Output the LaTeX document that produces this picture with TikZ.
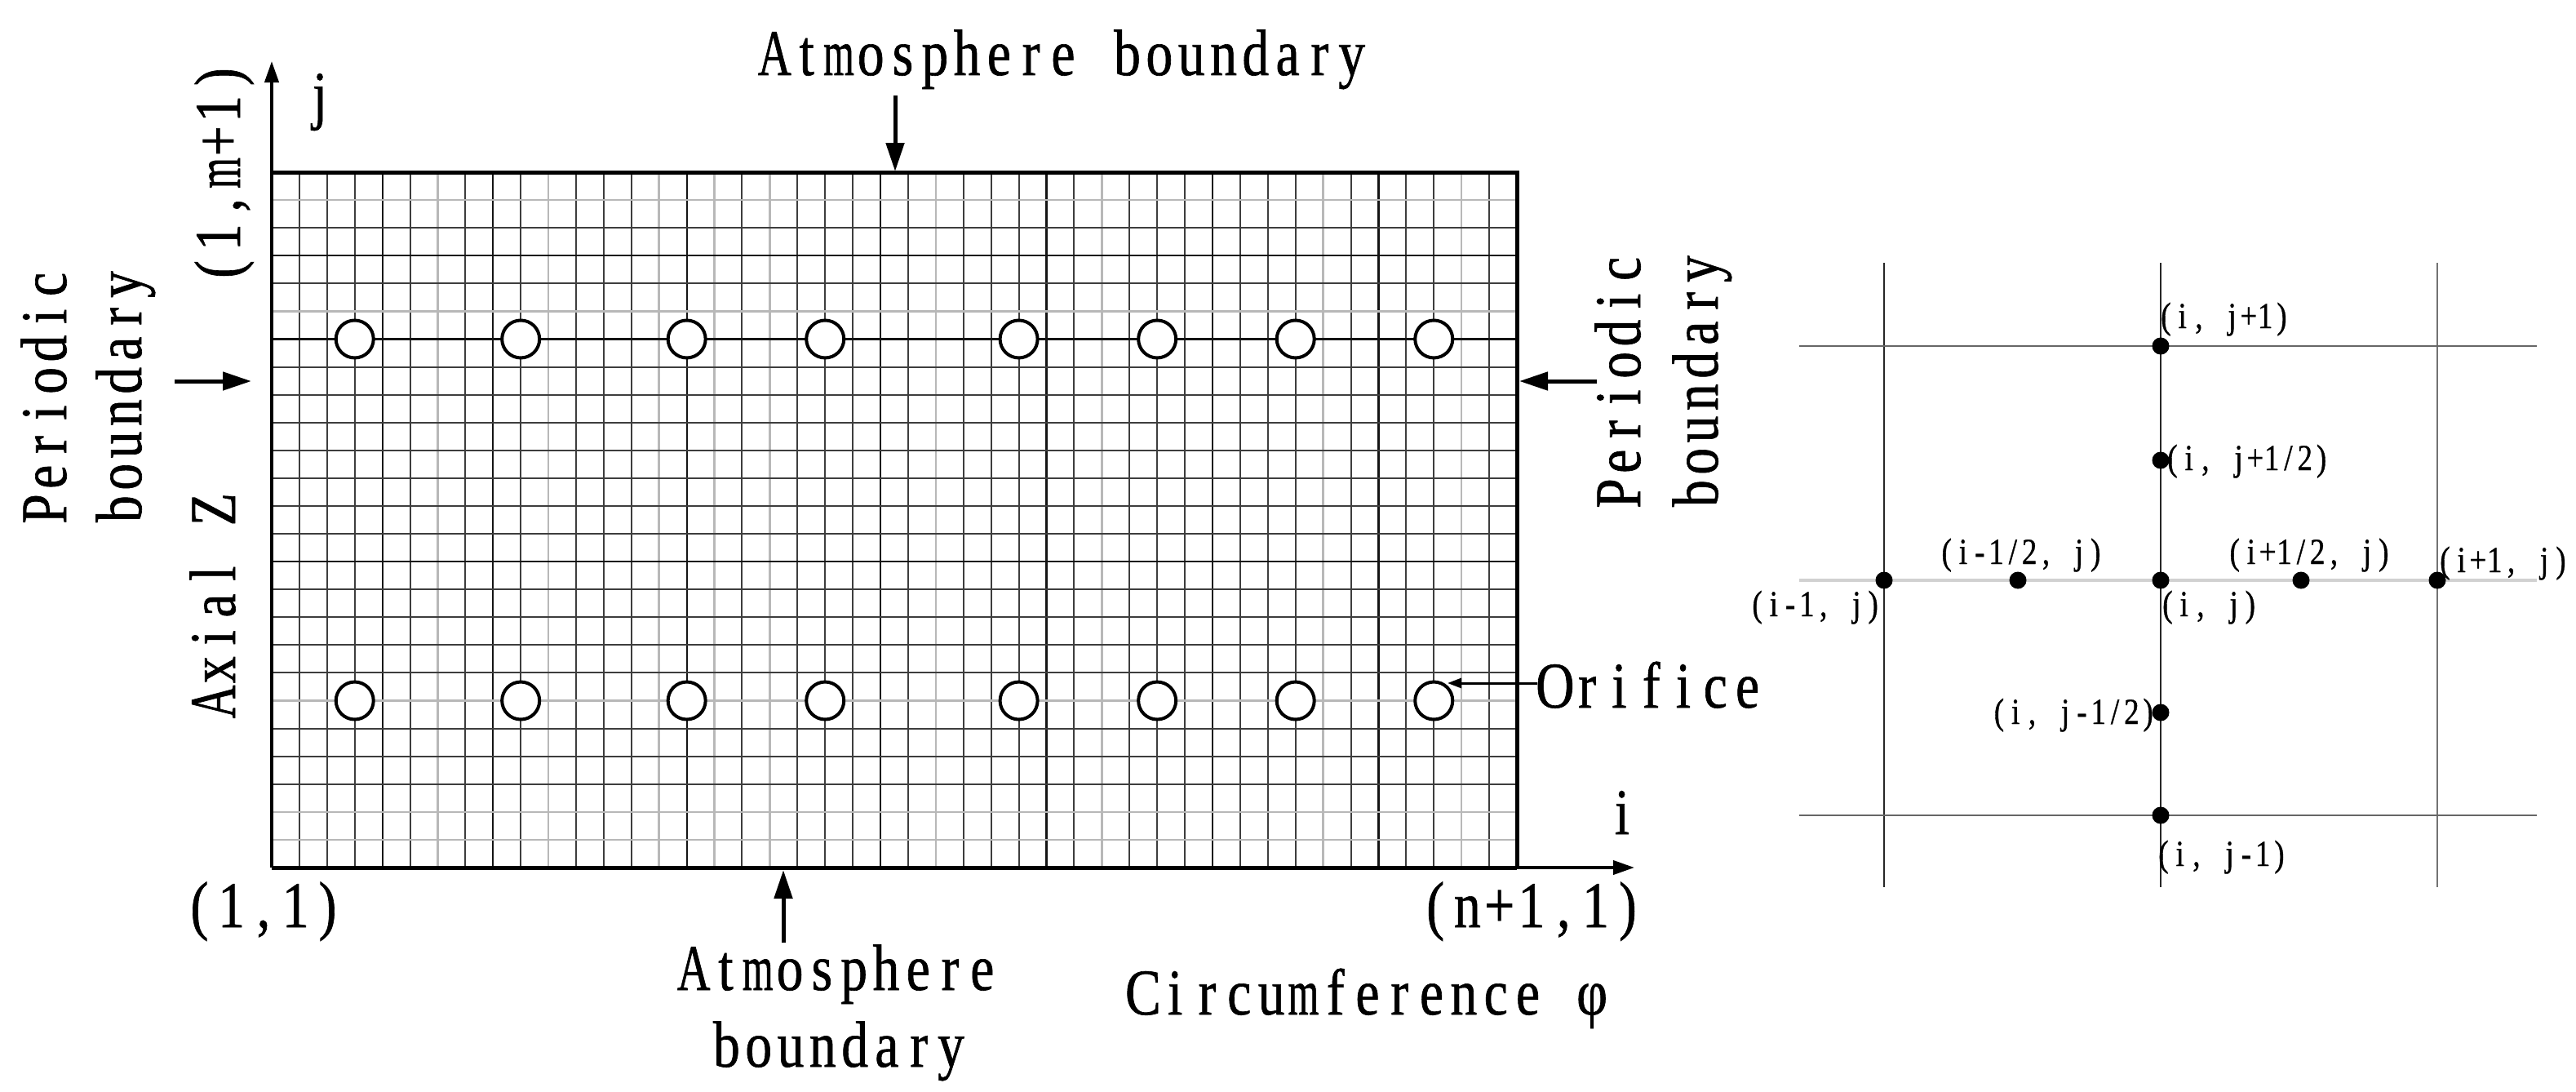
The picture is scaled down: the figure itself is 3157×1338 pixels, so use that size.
\documentclass[tikz,border=0pt]{standalone}
\usepackage{graphicx}
\usepackage{fontspec}
\setmainfont{Liberation Serif}[FakeStretch=0.82,FakeBold=0.8]
\usetikzlibrary{arrows.meta}
\newlength\cw
\makeatletter
\def\mn@end{\mn@end}
\def\mn@one#1{\ifx#1m\scalebox{0.74}[1]{m}\else\ifx#1A\scalebox{0.86}[1]{A}\else #1\fi\fi}
\def\mn@loop#1{\ifx#1\mn@end\else\makebox[\cw][c]{\mn@one#1}\expandafter\mn@loop\fi}
\newcommand\mono[1]{\mn@loop#1\mn@end}
\makeatother
\newcommand\bigf{\fontsize{80}{92}\selectfont\setlength\cw{39.3pt}}
\newcommand\smallf{\fontsize{45}{52}\selectfont\setlength\cw{20.3pt}}
\begin{document}
\begin{tikzpicture}[x=1pt,y=-1pt,
  glm/.style={black!76,line width=2pt},
  glb/.style={black!92,line width=2.2pt},
  gll/.style={black!28,line width=2.6pt},
  orif/.style={circle,draw,line width=4pt,fill=white,minimum size=46pt,inner sep=0pt},
  lbl/.style={inner sep=0pt,font=\bigf},
  slbl/.style={inner sep=0pt,font=\smallf},
  bnd/.style={line width=5pt,-{Triangle[length=35pt,width=22pt]}},
  axis/.style={line width=4pt,-{Triangle[length=26pt,width=17pt]}},
  dot/.style={circle,fill=black,minimum size=21pt,inner sep=0pt},
  sl/.style={line width=2pt}]
\fill[white] (0,0) rectangle (3157,1338);
\useasboundingbox (0,0) rectangle (3157,1338);
% ---------- grid ----------
\def\cx{33.911}\def\cy{34.08}
\foreach \k in {1,2,3,5,7,9,11,13,17,19,20,21,23,25,27,29,31,32,33,35,37,39,41,42,44,12,26,36}
  \draw[glm] ({333+\k*\cx},211) -- ({333+\k*\cx},1063);
\foreach \k in {6,10,14,16,18,24,30,38,43}
  \draw[gll] ({333+\k*\cx},211) -- ({333+\k*\cx},1063);
\foreach \k in {4,8,15,22,28,34,40}
  \draw[glb] ({333+\k*\cx},211) -- ({333+\k*\cx},1063);
\foreach \k in {2,4,7,8,9,10,11,12,13,15,16,17,18,20,21,22}
  \draw[glm] (333,{211+\k*\cy}) -- (1859,{211+\k*\cy});
\foreach \k in {1,5,19,23,24}
  \draw[gll] (333,{211+\k*\cy}) -- (1859,{211+\k*\cy});
\foreach \k in {3,6,14}
  \draw[glb] (333,{211+\k*\cy}) -- (1859,{211+\k*\cy});
% frame
\draw[line width=5pt] (333,211) -- (1859,211) -- (1859,1063);
% orifices
\foreach \i in {3,9,15,20,27,32,37,42}
  \foreach \r in {6,19}
    \node[orif] (o-\i-\r) at ({333+\i*\cx},{211+\r*\cy}) {};
% axes
\coordinate (O) at (333,1063);
\coordinate (ytip) at (333,75);
\coordinate (xtip) at (2003,1063);
\draw[axis] (O) -- (ytip);
\draw[axis] (O) -- (xtip);
\draw[line width=5pt] (333,1063) -- (1859,1063);
% boundary arrows
\coordinate (ta1) at (1097,117); \coordinate (ta2) at (1097,210);
\coordinate (ba1) at (960,1155); \coordinate (ba2) at (960,1066);
\coordinate (la1) at (214,467);  \coordinate (la2) at (308,467);
\coordinate (ra1) at (1957,467); \coordinate (ra2) at (1862,467);
\draw[bnd] (ta1) -- (ta2);
\draw[bnd] (ba1) -- (ba2);
\draw[bnd] (la1) -- (la2);
\draw[bnd] (ra1) -- (ra2);
% labels
\node[lbl,anchor=base] (tatm) at (1303,92) {\mono{Atmosphere~boundary}};
\node[lbl,anchor=base] (jl) at (392,143) {\mono{j}};
\node[lbl,anchor=base] (il) at (1988,1022) {\mono{i}};
\node[lbl,anchor=base,rotate=90] (m1) at (294,212) {\mono{(1,m+1)}};
\node[lbl,anchor=base,rotate=90] (lp1) at (81,486) {\mono{Periodic}};
\node[lbl,anchor=base,rotate=90] (lp2) at (173,486) {\mono{boundary}};
\node[lbl,anchor=base,rotate=90] (ax) at (288,742) {\mono{Axial~Z}};
\node[lbl,anchor=base,rotate=90] (rp1) at (2010,467) {\mono{Periodic}};
\node[lbl,anchor=base,rotate=90] (rp2) at (2105,467) {\mono{boundary}};
\node[lbl,anchor=base west] (orl) at (1886,867) {\mono{Orifice}};
\node[lbl,anchor=base] (c11) at (323,1136) {\mono{(1,1)}};
\node[lbl,anchor=base] (cn1) at (1877,1136) {\mono{(n+1,1)}};
\node[lbl,anchor=base] (batm1) at (1027,1213) {\mono{Atmosphere}};
\node[lbl,anchor=base] (batm2) at (1028,1307) {\mono{boundary}};
\node[lbl,anchor=base] (circ) at (1676,1243) {\mono{Circumference~φ}};
% orifice pointer
\coordinate (op1) at (1884,837); \coordinate (op2) at (1774,837);
\draw[line width=3pt,-{Triangle[length=17pt,width=12pt]}] (op1) -- (op2);
% ---------- stencil ----------
\coordinate (v1t) at (2309,322); \coordinate (v1b) at (2309,1087);
\coordinate (v2t) at (2648,322); \coordinate (v2b) at (2648,1087);
\coordinate (v3t) at (2987,322); \coordinate (v3b) at (2987,1087);
\coordinate (h1l) at (2205,424); \coordinate (h1r) at (3109,424);
\coordinate (h2l) at (2205,711); \coordinate (h2r) at (3109,711);
\coordinate (h3l) at (2205,999); \coordinate (h3r) at (3109,999);
\draw[sl,black!85] (v1t) -- (v1b);
\draw[sl,black!85] (v2t) -- (v2b);
\draw[sl,black!55] (v3t) -- (v3b);
\draw[sl,black!60] (h1l) -- (h1r);
\draw[black!18,line width=4pt] (h2l) -- (h2r);
\draw[sl,black!60] (h3l) -- (h3r);
\node[dot] (pjp1) at (2648,424) {};
\node[dot] (pjph) at (2648,564) {};
\node[dot] (pij) at (2648,711) {};
\node[dot] (pim1) at (2309,711) {};
\node[dot] (pimh) at (2473,711) {};
\node[dot] (piph) at (2820,711) {};
\node[dot] (pip1) at (2987,711) {};
\node[dot] (pjmh) at (2648,873) {};
\node[dot] (pjm1) at (2648,999) {};
\node[slbl,anchor=base west] at (2644,402) {\mono{(i,~j+1)}};
\node[slbl,anchor=base west] at (2652,576) {\mono{(i,~j+1/2)}};
\node[slbl,anchor=base] at (2477,691) {\mono{(i-1/2,~j)}};
\node[slbl,anchor=base] at (2830,691) {\mono{(i+1/2,~j)}};
\node[slbl,anchor=base west] at (2986,701) {\mono{(i+1,~j)}};
\node[slbl,anchor=base east] at (2306,755) {\mono{(i-1,~j)}};
\node[slbl,anchor=base west] at (2646,755) {\mono{(i,~j)}};
\node[slbl,anchor=base east] at (2643,887) {\mono{(i,~j-1/2)}};
\node[slbl,anchor=base west] at (2641,1061) {\mono{(i,~j-1)}};
\end{tikzpicture}
\end{document}
